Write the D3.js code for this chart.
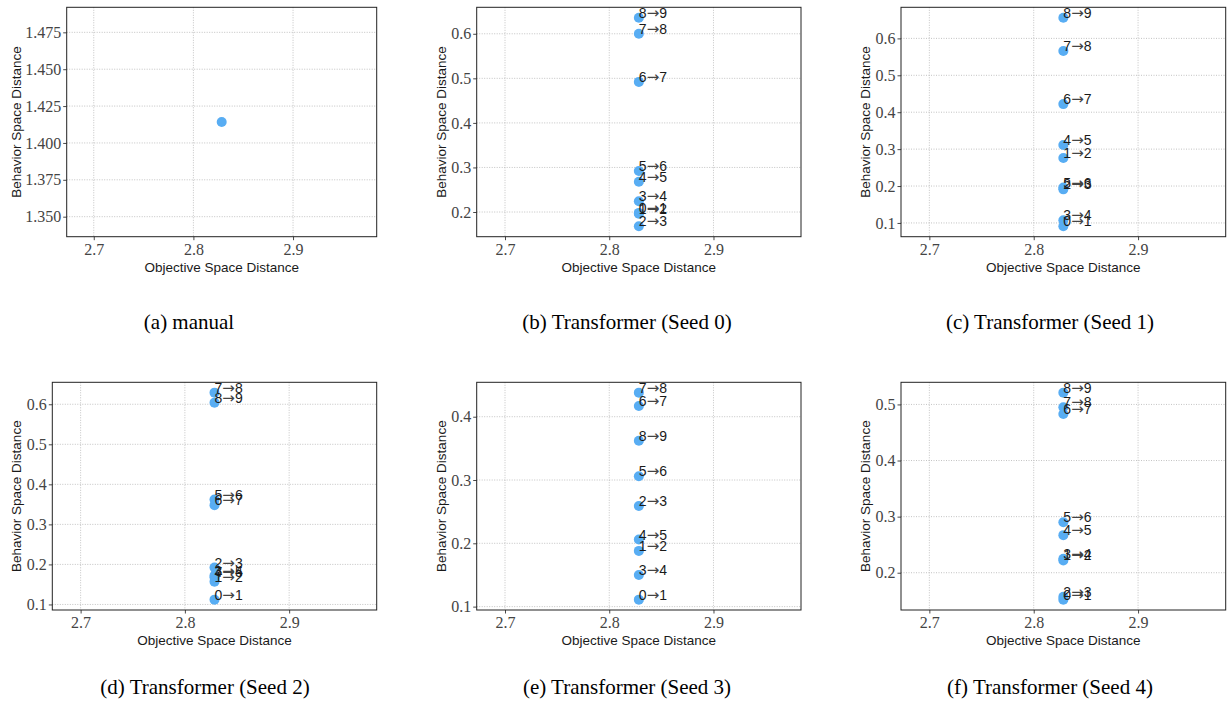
<!DOCTYPE html>
<html>
<head>
<meta charset="utf-8">
<script src="https://cdn.jsdelivr.net/npm/d3@7"></script>
<style>
  body { margin: 0; background: #fff; }
</style>
</head>
<body>
<svg id="chart" width="1231" height="711"></svg>
<script>
// transition labels shared by every transformer panel
const transitionFrom = ["0", "1", "2", "3", "4", "5", "6", "7", "8"];
const transitionTo = ["1", "2", "3", "4", "5", "6", "7", "8", "9"];

// manual panel: a single point
const manualObjective = [2.8284];
const manualBehavior = [1.4142];

// transformer panels: objective distance is the same for every transition
const objectiveDistance = [2.8284, 2.8284, 2.8284, 2.8284, 2.8284, 2.8284, 2.8284, 2.8284, 2.8284];
const seed0Behavior = [0.198, 0.196, 0.168, 0.224, 0.268, 0.292, 0.492, 0.600, 0.636];
const seed1Behavior = [0.091, 0.276, 0.191, 0.107, 0.311, 0.196, 0.422, 0.566, 0.656];
const seed2Behavior = [0.112, 0.157, 0.192, 0.172, 0.168, 0.362, 0.348, 0.629, 0.604];
const seed3Behavior = [0.111, 0.188, 0.259, 0.150, 0.206, 0.306, 0.417, 0.438, 0.362];
const seed4Behavior = [0.152, 0.222, 0.157, 0.225, 0.267, 0.290, 0.483, 0.495, 0.521];

// tick labels
const xTicks = [2.7, 2.8, 2.9];
const manualYTicks = [1.350, 1.375, 1.400, 1.425, 1.450, 1.475];
const seed0YTicks = [0.2, 0.3, 0.4, 0.5, 0.6];
const seed1YTicks = [0.1, 0.2, 0.3, 0.4, 0.5, 0.6];
const seed2YTicks = [0.1, 0.2, 0.3, 0.4, 0.5, 0.6];
const seed3YTicks = [0.1, 0.2, 0.3, 0.4];
const seed4YTicks = [0.2, 0.3, 0.4, 0.5];

const captions = ["(a) manual", "(b) Transformer (Seed 0)", "(c) Transformer (Seed 1)",
                  "(d) Transformer (Seed 2)", "(e) Transformer (Seed 3)", "(f) Transformer (Seed 4)"];

const panels = [
    { x: manualObjective,   y: manualBehavior, labeled: false, yTicks: manualYTicks, fmt: ".3f",
      box: [66.7, 7.3, 376.7, 236.7], ylabX: 16, capX: 189, capY: 322 },
    { x: objectiveDistance, y: seed0Behavior,  labeled: true, yTicks: seed0YTicks,  fmt: ".1f",
      box: [476.7, 7.3, 801, 236.7], ylabX: 441.7, capX: 627, capY: 322 },
    { x: objectiveDistance, y: seed1Behavior,  labeled: true, yTicks: seed1YTicks,  fmt: ".1f",
      box: [901, 7.3, 1225.7, 236.7], ylabX: 865, capX: 1050, capY: 322 },
    { x: objectiveDistance, y: seed2Behavior,  labeled: true, yTicks: seed2YTicks,  fmt: ".1f",
      box: [52.3, 382.3, 376.7, 610], ylabX: 16, capX: 205, capY: 687 },
    { x: objectiveDistance, y: seed3Behavior,  labeled: true, yTicks: seed3YTicks,  fmt: ".1f",
      box: [476.7, 382.3, 801, 610], ylabX: 441.7, capX: 627, capY: 687 },
    { x: objectiveDistance, y: seed4Behavior,  labeled: true, yTicks: seed4YTicks,  fmt: ".1f",
      box: [901, 382.3, 1225.7, 610], ylabX: 865, capX: 1050, capY: 687 }
];

// matplotlib-like autoscale: 5% margins, singular ranges expanded around the value
function padded(vals) {
    const [lo, hi] = d3.extent(vals);
    if (lo === hi) return [lo * 0.945, hi * 1.055];
    const m = (hi - lo) * 0.05;
    return [lo - m, hi + m];
}

const svg = d3.select("#chart");
const pointColor = "#58adf3";
const gridColor = "#b4b4b4";
const tickFont = "'Liberation Serif', 'Times New Roman', serif";
const labelFont = "'Liberation Sans', Arial, sans-serif";

panels.forEach((p, i) => {
    const [x0, y0, x1, y1] = p.box;
    const xScale = d3.scaleLinear().domain(padded(p.x)).range([x0, x1]);
    const yScale = d3.scaleLinear().domain(padded(p.y)).range([y1, y0]);
    const g = svg.append("g");

    // grid
    g.selectAll(".vgrid").data(xTicks).enter().append("line")
        .attr("x1", d => xScale(d)).attr("x2", d => xScale(d))
        .attr("y1", y0).attr("y2", y1)
        .attr("stroke", gridColor).attr("stroke-width", 0.8).attr("stroke-dasharray", "1,1.5");
    g.selectAll(".hgrid").data(p.yTicks).enter().append("line")
        .attr("x1", x0).attr("x2", x1)
        .attr("y1", d => yScale(d)).attr("y2", d => yScale(d))
        .attr("stroke", gridColor).attr("stroke-width", 0.8).attr("stroke-dasharray", "1,1.5");

    // axes
    const xAxis = g.append("g").attr("transform", `translate(0,${y1})`)
        .call(d3.axisBottom(xScale).tickValues(xTicks).tickFormat(d3.format(".1f")).tickSize(3.5).tickPadding(3));
    const yAxis = g.append("g").attr("transform", `translate(${x0},0)`)
        .call(d3.axisLeft(yScale).tickValues(p.yTicks).tickFormat(d3.format(p.fmt)).tickSize(3.5).tickPadding(2));
    [xAxis, yAxis].forEach(a => {
        a.attr("font-family", null).attr("font-size", null);
        a.select(".domain").remove();
        a.selectAll(".tick line").attr("stroke", "#333").attr("stroke-width", 0.9);
        a.selectAll(".tick text")
            .attr("font-family", tickFont).attr("font-size", 16)
            .attr("fill", "#444");
    });

    // frame
    g.append("rect")
        .attr("x", x0).attr("y", y0).attr("width", x1 - x0).attr("height", y1 - y0)
        .attr("fill", "none").attr("stroke", "#222").attr("stroke-width", 1);

    // points
    g.selectAll("circle").data(p.y).enter().append("circle")
        .attr("cx", (d, j) => xScale(p.x[j]))
        .attr("cy", d => yScale(d))
        .attr("r", 5)
        .attr("fill", pointColor);

    // transition labels "a→b"
    if (p.labeled) {
        const lab = g.selectAll(".plabel").data(p.y).enter().append("text")
            .attr("x", (d, j) => xScale(p.x[j]))
            .attr("y", d => yScale(d))
            .attr("font-family", labelFont).attr("font-size", 14).attr("fill", "#1a1a1a");
        lab.append("tspan").text((d, j) => transitionFrom[j]);
        lab.append("tspan").attr("font-family", "'DejaVu Sans', sans-serif").attr("font-size", 15)
            .attr("fill", "#444").text("→");
        lab.append("tspan").text((d, j) => transitionTo[j]);
    }

    // axis titles
    g.append("text")
        .attr("x", (x0 + x1) / 2).attr("y", y1 + 35)
        .attr("text-anchor", "middle")
        .attr("font-family", labelFont).attr("font-size", 13.5).attr("fill", "#1a1a1a")
        .text("Objective Space Distance");
    g.append("text")
        .attr("transform", `translate(${p.ylabX},${(y0 + y1) / 2}) rotate(-90)`)
        .attr("text-anchor", "middle").attr("dominant-baseline", "central")
        .attr("font-family", labelFont).attr("font-size", 13.5).attr("fill", "#1a1a1a")
        .text("Behavior Space Distance");

    // caption
    svg.append("text")
        .attr("x", p.capX).attr("y", p.capY)
        .attr("text-anchor", "middle").attr("dominant-baseline", "central")
        .attr("font-family", tickFont).attr("font-size", 21).attr("fill", "#000")
        .text(captions[i]);
});
</script>
</body>
</html>
